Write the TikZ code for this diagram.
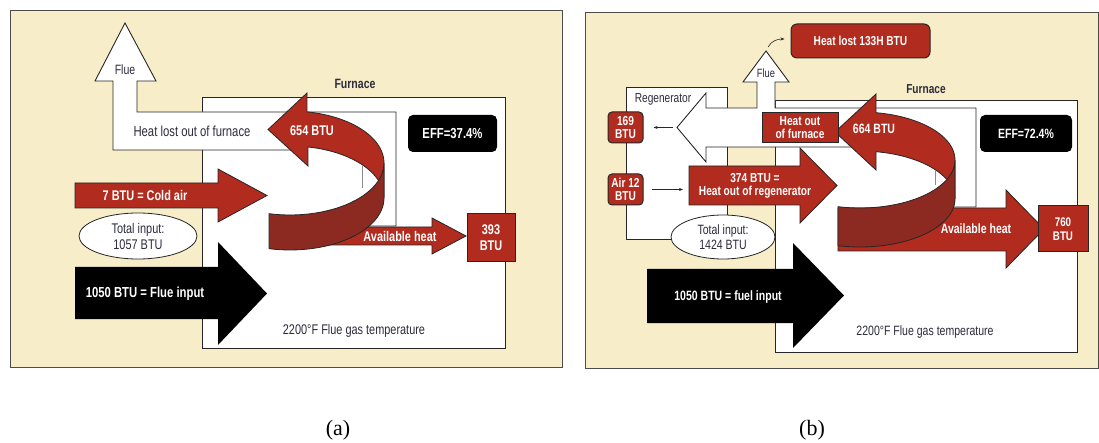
\documentclass[tikz,border=0pt]{standalone}
\usepackage{fontspec}
\usetikzlibrary{arrows.meta,shapes.geometric}
\newfontfamily\cond[FakeStretch=0.78]{Liberation Sans}
\newfontfamily\capfont{Liberation Serif}
\definecolor{paper}{HTML}{F8EDC9}
\definecolor{heat}{HTML}{B22B1F}
\definecolor{heatdark}{HTML}{8C2A22}
\definecolor{ink}{HTML}{2C2C3C}

\begin{document}
\begin{tikzpicture}[x=1pt, y=-1pt,
	box/.style={draw=black!85, line width=0.9pt},
	redarrow/.style={fill=heat, draw=black!85, line width=0.8pt},
	frontface/.style={fill=heatdark, draw=black!85, line width=0.8pt},
	lbl/.style 2 args={font=\cond\bfseries\fontsize{#1}{#2}\selectfont, text=white, align=center, inner sep=0pt},
	txt/.style 2 args={font=\cond\fontsize{#1}{#2}\selectfont, text=ink, align=center, inner sep=0pt},
	redbox/.style={fill=heat, draw=black!85, line width=1pt, inner sep=0pt},
	effbox/.style={fill=black, rounded corners=5pt, inner sep=0pt},
	smallarrow/.style={-{Stealth[length=4pt]}, line width=0.6pt, draw=black!85}]
	\useasboundingbox (0,0) rectangle (1099,443);

	% ---------------- (a) without regenerator
	\filldraw[fill=paper, draw=black!70, line width=0.8pt] (10,10) rectangle (562,367);
	\filldraw[fill=white, box] (202,97) rectangle (505,348);
	\node[lbl={13.5}{15}, text=ink] (fura) at (355,84) {Furnace};
	\fill[white] (300,150) -- (113,150) -- (113,81) -- (95,81) -- (125,23) -- (156,81) -- (137,81) -- (137,112) -- (396,112) -- (396,226) -- (300,226) -- cycle;
	\draw[box] (300,150) -- (113,150) -- (113,81) -- (95,81) -- (125,23) -- (156,81) -- (137,81) -- (137,112) -- (396,112) -- (396,226) -- (300,226);
	\node[txt={13.5}{15}] (fluea) at (125,70) {Flue};
	\node[txt={14.5}{16}] (losta) at (192,131) {Heat lost out of furnace};

	\draw[redarrow] (75,183) -- (218,183) -- (218,169) -- (267,195.5) -- (218,222) -- (218,208) -- (75,208) -- cycle;
	\node[lbl={14}{15}] (colda) at (145,195.5) {7 BTU = Cold air};
	\node[ellipse, draw=black!85, line width=0.8pt, fill=white, minimum width=118pt, minimum height=46pt, inner sep=0pt, txt={14}{16}] (tota) at (138,236) {Total input:\\1057 BTU};
	\fill[black] (75,267) -- (218,267) -- (218,242) -- (267,293.5) -- (218,345) -- (218,319) -- (75,319) -- cycle;
	\node[lbl={14.5}{16}] (fuela) at (145,294) {1050 BTU = Flue input};

	\draw[redarrow] (285,227) -- (432,227) -- (432,218) -- (466,236) -- (432,254) -- (432,245) -- (285,245) -- cycle;
	\node[lbl={14}{15}] (avla) at (400,236) {Available heat};
	\node[redbox, minimum width=48pt, minimum height=48pt, lbl={14}{16}] (outa) at (491,238) {393\\BTU};

	\draw[redarrow] (268,129.5) -- (307,93) -- plot[domain=280.4:360, samples=30] ({290+94*cos(\x)}, {163+52*sin(\x)}) -- plot[domain=360:281, samples=30] ({290+94*cos(\x)}, {198+52*sin(\x)}) -- (308,166) -- cycle;
	\draw[black!45, line width=0.6pt] (362,165.5) -- (362,188);
	\draw[frontface] plot[domain=102.9:0, samples=30] ({290+94*cos(\x)}, {163+52*sin(\x)}) -- plot[domain=0:102.9, samples=30] ({290+94*cos(\x)}, {198+52*sin(\x)}) -- cycle;
	\node[lbl={14}{15}] (backa) at (312,131) {654 BTU};

	\node[effbox, minimum width=89pt, minimum height=37pt, lbl={14.5}{16}] (effa) at (452.5,133.5) {EFF=37.4\%};
	\node[txt={14}{15}] (tempa) at (354,331) {2200°F Flue gas temperature};
	\node[font=\capfont\fontsize{22}{24}\selectfont] (capa) at (338,430) {(a)};

	% ---------------- (b) with regenerator
	\filldraw[fill=paper, draw=black!70, line width=0.8pt] (585,12) rectangle (1098,368);
	\filldraw[fill=white, box] (626,87) rectangle (727,239);
	\node[txt={13}{14}] (regen) at (663,99) {Regenerator};
	\filldraw[fill=white, box] (775,100) rectangle (1077,352);
	\node[lbl={13}{14}, text=ink] (furb) at (926,89) {Furnace};
	\fill[white] (860,147) -- (706,147) -- (706,162) -- (677,127.5) -- (706,93) -- (706,108) -- (757,108) -- (757,82) -- (743,82) -- (766,51) -- (789,82) -- (775,82) -- (775,108) -- (976,108) -- (976,207) -- (900,207) -- cycle;
	\draw[box] (860,147) -- (706,147) -- (706,162) -- (677,127.5) -- (706,93) -- (706,108) -- (757,108) -- (757,82) -- (743,82) -- (766,51) -- (789,82) -- (775,82) -- (775,108) -- (976,108) -- (976,207) -- (900,207);
	\node[txt={12}{13}] (flueb) at (766,73) {Flue};
	\coordinate (fluetip) at (768,47);
	\coordinate (regtip) at (673,127.5);
	\coordinate (regin) at (689,189.5);

	\node[redbox, rounded corners=6pt, minimum width=139pt, minimum height=34pt, lbl={13}{14}] (lostb) at (860.5,41) {Heat lost 133H BTU};
	\draw[smallarrow] (fluetip) to[out=60, in=180] ([xshift=-6pt, yshift=2pt]lostb.west);
	\node[redbox, rounded corners=4pt, minimum width=35pt, minimum height=31pt, lbl={13}{13}] (b169) at (625.5,127.5) {169\\BTU};
	\draw[smallarrow, shorten >=10pt] (regtip) -- (b169.east);
	\node[redbox, rounded corners=4pt, minimum width=35pt, minimum height=31pt, lbl={13}{13}] (airb) at (625.5,189.5) {Air 12\\BTU};
	\draw[smallarrow, shorten <=8pt, shorten >=6pt] (airb.east) -- (regin);

	\draw[redarrow] (regin|-0,166) -- (800,166) -- (800,148) -- (837,185.5) -- (800,223) -- (800,205) -- (regin|-0,205) -- cycle;
	\node[lbl={13}{13.5}] (regout) at (755,186) {374 BTU =\\Heat out of regenerator};
	\node[ellipse, draw=black!85, line width=0.8pt, fill=white, minimum width=104pt, minimum height=44pt, inner sep=0pt, txt={13.5}{15}] (totb) at (723,237) {Total input:\\1424 BTU};
	\fill[black] (647,269) -- (793,269) -- (793,243) -- (844,295.5) -- (793,348) -- (793,323) -- (647,323) -- cycle;
	\node[lbl={13.5}{15}] (fuelb) at (728,297) {1050 BTU = fuel input};

	\draw[redarrow] (838,208) -- (1006,208) -- (1006,190) -- (1044,229) -- (1006,268) -- (1006,251) -- (838,251) -- cycle;
	\node[lbl={13.5}{15}] (avlb) at (976,229) {Available heat};
	\node[redbox, minimum width=50pt, minimum height=46pt, lbl={12.5}{14}] (outb) at (1063,229) {760\\BTU};

	\draw[redarrow] (835,132) -- (876,94) -- plot[domain=279.7:360, samples=30] ({860+95*cos(\x)}, {160+48*sin(\x)}) -- plot[domain=360:279.7, samples=30] ({860+95*cos(\x)}, {199+48*sin(\x)}) -- (876,170) -- cycle;
	\draw[black!45, line width=0.6pt] (935,170) -- (935,185);
	\draw[frontface] plot[domain=103.4:0, samples=30] ({860+95*cos(\x)}, {160+48*sin(\x)}) -- plot[domain=0:103.4, samples=30] ({860+95*cos(\x)}, {199+48*sin(\x)}) -- cycle;
	\node[lbl={13.5}{15}] (backb) at (874,129) {664 BTU};
	\node[redbox, minimum width=76pt, minimum height=30pt, lbl={13}{13}] (houtb) at (800,128) {Heat out\\of furnace};

	\node[effbox, minimum width=92pt, minimum height=37pt, lbl={13.5}{15}] (effb) at (1026,133.5) {EFF=72.4\%};
	\node[txt={13.5}{15}] (tempb) at (925,332) {2200°F Flue gas temperature};
	\node[font=\capfont\fontsize{22}{24}\selectfont] (capb) at (812,430) {(b)};
\end{tikzpicture}
\end{document}
